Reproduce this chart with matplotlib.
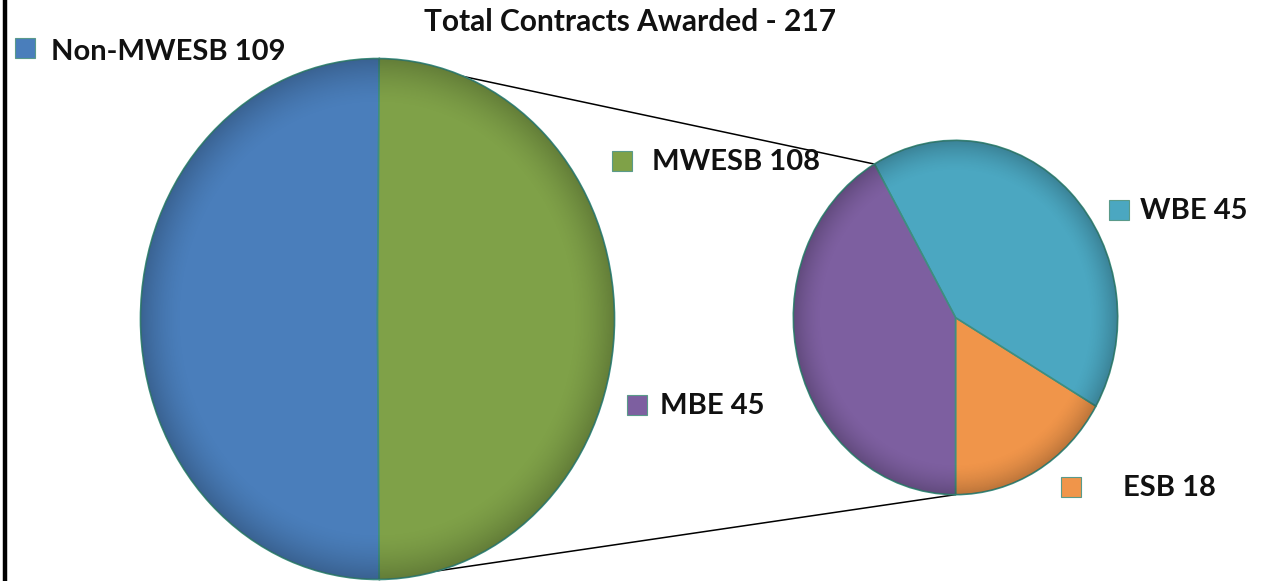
import numpy as np
import matplotlib
matplotlib.use("Agg")
import matplotlib.pyplot as plt
from matplotlib.patches import ConnectionPatch, Rectangle, Circle

# ---- data ----
title = "Total Contracts Awarded - 217"
main_labels = ["Non-MWESB", "MWESB"]
main_values = [109, 108]
sub_labels = ["ESB", "WBE", "MBE"]
sub_values = [18, 45, 45]

main_colors = ["#4A7EBB", "#7FA148"]
sub_colors = ["#F0954A", "#4BA7C1", "#7D5FA0"]

W, H = 1264, 581
fig = plt.figure(figsize=(W / 100, H / 100), dpi=100)
fig.patch.set_facecolor("white")

def px_axes(x0, y0, x1, y1):
    return fig.add_axes([x0 / W, 1 - y1 / H, (x1 - x0) / W, (y1 - y0) / H])

FONT = ["Lato", "DejaVu Sans"]
edge = dict(edgecolor="#3E8E80", linewidth=1.2)

def shade(ax):
    n = 400
    yy, xx = np.mgrid[-1:1:n * 1j, -1:1:n * 1j]
    r = np.sqrt(xx ** 2 + yy ** 2)
    a = np.clip((r - 0.82) / 0.18, 0, 1) ** 1.6 * 0.22
    img = np.zeros((n, n, 4))
    img[..., 3] = a
    im = ax.imshow(img, extent=(-1, 1, -1, 1), origin="lower",
                   interpolation="bilinear", zorder=3, aspect="auto")
    c = Circle((0, 0), 1, transform=ax.transData)
    im.set_clip_path(c)

# main pie: secondary ("MWESB") slice centred on the right side
total = sum(main_values)
start_main = -main_values[1] / total * 180.0 + 180.0 - 360.0 * main_values[0] / total + 180.0
ax1 = px_axes(140, 58, 615, 580)
w1, _ = ax1.pie(main_values, colors=main_colors, startangle=start_main,
                counterclock=True, radius=1, wedgeprops=edge)
shade(ax1)
ax1.set_xlim(-1.002, 1.002)
ax1.set_ylim(-1.002, 1.002)
ax1.set_aspect("auto")
ax1.axis("off")

# secondary pie
ax2 = px_axes(793, 140, 1118, 495)
w2, _ = ax2.pie(sub_values, colors=sub_colors, startangle=270,
                counterclock=True, radius=1, wedgeprops=edge)
shade(ax2)
ax2.set_xlim(-1.002, 1.002)
ax2.set_ylim(-1.002, 1.002)
ax2.set_aspect("auto")
ax2.axis("off")

# connector lines
a_top = np.deg2rad(w1[0].theta1)
a_bot = np.deg2rad(w1[0].theta2)
b_top = np.deg2rad(w2[2].theta1)
b_bot = np.deg2rad(w2[2].theta2)
for aa, bb in [(a_top, b_top), (a_bot, b_bot)]:
    con = ConnectionPatch(xyA=(np.cos(aa), np.sin(aa)), coordsA=ax1.transData,
                          xyB=(np.cos(bb), np.sin(bb)), coordsB=ax2.transData,
                          color="black", linewidth=1.1, zorder=0)
    fig.add_artist(con)

ov = fig.add_axes([0, 0, 1, 1], zorder=5)
ov.set_xlim(0, W)
ov.set_ylim(H, 0)
ov.axis("off")
ov.patch.set_alpha(0)

# left border
ov.plot([4.5, 4.5], [0, H], color="black", linewidth=3.2, solid_capstyle="butt")

ov.text(630, 22, title, fontsize=21.5, fontweight="bold", family=FONT,
        ha="center", va="center", color="#111111")

legend_items = [
    (f"{main_labels[0]} {main_values[0]}", main_colors[0], 15, 38, 51, 52),
    (f"{main_labels[1]} {main_values[1]}", main_colors[1], 612, 151, 652, 162),
    (f"{sub_labels[2]} {sub_values[2]}", sub_colors[2], 627, 395, 660, 406),
    (f"{sub_labels[1]} {sub_values[1]}", sub_colors[1], 1109, 200, 1140, 211),
    (f"{sub_labels[0]} {sub_values[0]}", sub_colors[0], 1061, 477, 1123, 488),
]
for txt, col, mx, my, tx, ty in legend_items:
    ov.add_patch(Rectangle((mx, my), 20, 20, facecolor=col,
                           edgecolor="#5a9a8a", linewidth=0.8))
    ov.text(tx, ty, txt, fontsize=21, fontweight="bold", family=FONT,
            ha="left", va="center", color="#111111")

fig.savefig("out.png", dpi=100, facecolor="white")
